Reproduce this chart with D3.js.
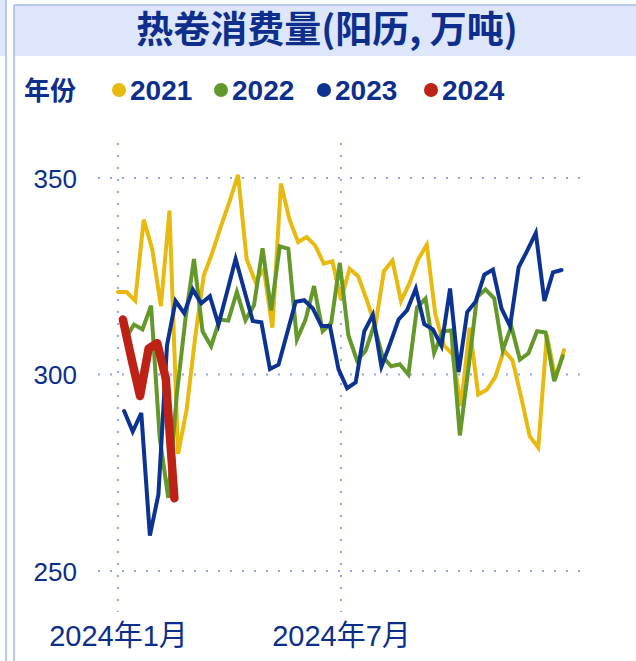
<!DOCTYPE html>
<html>
<head>
<meta charset="utf-8">
<script src="https://cdn.jsdelivr.net/npm/d3@7"></script>
<style>
  html, body { margin: 0; padding: 0; background: #fff; }
  svg { display: block; }
</style>
</head>
<body>
<div id="chart"></div>
<script>
'use strict'

// weekly (Friday) hot-rolled coil consumption, 10k tonnes
const firstDates = {
  '2021': '2021-01-01',
  '2022': '2022-01-07',
  '2023': '2023-01-06',
  '2024': '2024-01-05'
}

const values2021 = [321, 321, 318.8, 339.4, 331.8, 317.4, 341.7, 279.8, 291, 309.5,
  325.2, 331, 337.7, 344, 350.8, 329.3, 323.7, 326.7, 311.9, 348.6,
  339.4, 333.7, 335, 332.8, 328.2, 328.8, 319, 326.9, 325, 319,
  312.3, 326.3, 329, 318.7, 323.3, 329.3, 333, 315.3, 307.4, 305.2,
  292, 311.9, 294.9, 296.1, 299.4, 306.2, 303.6, 294.3, 284.3, 281.4,
  310, 299, 306.2]

const values2022 = [309, 312.7, 311.5, 317.5, 284, 268.6, 295, 314, 329.4, 311,
  307.2, 314, 313.7, 321, 313.8, 317.6, 332.1, 316.3, 332.6, 332,
  308.9, 313.9, 322.5, 311, 313.1, 328.4, 310, 303.6, 306, 312.5,
  304.5, 302.1, 302.6, 300, 317, 319.3, 305.5, 311, 311.2, 284.5,
  301.5, 319.7, 321.6, 319.4, 306.2, 312.3, 303.8, 305.4, 311, 310.7,
  298.3, 304.7]

const values2023 = [290.7, 285.5, 290.2, 259, 269.5, 307.5, 318.7, 315.6, 321.6, 318.1,
  319.9, 312.7, 321, 329.4, 321.5, 313.6, 313.3, 301.4, 302.5, 310.5,
  318.5, 318.9, 316.8, 312.4, 312.3, 301.3, 296.5, 298, 311, 315.2,
  302, 307.8, 314, 316.4, 321.8, 312.8, 311.5, 307.3, 321.9, 300.6,
  315.9, 318.6, 325.4, 326.7, 316.8, 312.3, 327.3, 331.5, 336, 318.7,
  326, 326.6]

const values2024 = [314, 304, 294.5, 306.6, 308, 299, 268.5]

const years = ['2021', '2022', '2023', '2024']
const yearValues = [values2021, values2022, values2023, values2024]
const colors = ['#e8b90e', '#64982a', '#0c3391', '#be2217']
const yTicks = [250, 300, 350]
const xTicks = ['2024-01-01', '2024-07-01']
const xTickLabels = ['2024年1月', '2024年7月']

const title = '热卷消费量(阳历, 万吨)'
const legendTitle = '年份'

const width = 636
const height = 661
const textColor = '#0d2e8c'
const gridColor = '#8ea7ef'

const parse = d3.timeParse('%Y-%m-%d')

// put every year's weeks on the 2024 calendar, by day of year
function toSeries(year, vals) {
  const start = parse(firstDates[year])
  const jan1 = new Date(+year, 0, 1)
  const offset = d3.timeDay.count(jan1, start)
  return vals.map((v, i) => ({
    date: d3.timeDay.offset(new Date(2024, 0, 1), offset + 7 * i),
    value: v
  }))
}

const series = years.map((y, i) => ({ year: y, color: colors[i], points: toSeries(y, yearValues[i]) }))

const svg = d3.select('#chart').append('svg')
  .attr('width', width)
  .attr('height', height)

// panel frame
svg.append('rect').attr('x', 0).attr('y', 0).attr('width', 6).attr('height', 56).attr('fill', '#dfe7fb')
svg.append('rect').attr('x', 14).attr('y', 5).attr('width', width - 14).attr('height', 51).attr('fill', '#dde6fb')
svg.append('line').attr('x1', 14).attr('x2', width).attr('y1', 5).attr('y2', 5)
  .attr('stroke', '#b6c8f0').attr('stroke-width', 2)
svg.append('line').attr('x1', 6).attr('x2', 6).attr('y1', 0).attr('y2', height)
  .attr('stroke', '#b6c8f0').attr('stroke-width', 2)
svg.append('line').attr('x1', 14).attr('x2', 14).attr('y1', 5).attr('y2', height)
  .attr('stroke', '#b6c8f0').attr('stroke-width', 2)

svg.append('text')
  .attr('x', 327)
  .attr('y', 43)
  .attr('text-anchor', 'middle')
  .style('font-family', '"Noto Sans CJK SC", sans-serif')
  .style('font-weight', 'bold')
  .style('font-size', '37px')
  .attr('fill', textColor)
  .text(title)

// legend
const legend = svg.append('g').attr('transform', 'translate(0,90)')
legend.append('text')
  .attr('x', 24)
  .attr('y', 10)
  .style('font-family', '"Noto Sans CJK SC", sans-serif')
  .style('font-weight', 'bold')
  .style('font-size', '26px')
  .attr('fill', textColor)
  .text(legendTitle)

const legendX = [119, 221, 324, 431]
const items = legend.selectAll('.item')
  .data(series)
  .enter()
  .append('g')
  .attr('class', 'item')
  .attr('transform', (d, i) => `translate(${legendX[i]},0)`)

items.append('circle')
  .attr('r', 7)
  .attr('fill', d => d.color)

items.append('text')
  .attr('x', 11)
  .attr('y', 10)
  .style('font-family', '"Liberation Sans", Arial, sans-serif')
  .style('font-weight', 'bold')
  .style('font-size', '28px')
  .attr('fill', textColor)
  .text(d => d.year)

// scales
const x = d3.scaleTime()
  .domain([parse('2024-01-01'), parse('2024-07-01')])
  .range([118, 341])

const y = d3.scaleLinear()
  .domain([250, 350])
  .range([571, 178])

// grid
const grid = svg.append('g')
grid.selectAll('.hgrid')
  .data(yTicks)
  .enter()
  .append('line')
  .attr('x1', 98)
  .attr('x2', 580)
  .attr('y1', d => y(d))
  .attr('y2', d => y(d))
  .attr('stroke', gridColor)
  .attr('stroke-width', 2)
  .attr('stroke-dasharray', '2 10')

grid.selectAll('.vgrid')
  .data(xTicks)
  .enter()
  .append('line')
  .attr('x1', d => x(parse(d)))
  .attr('x2', d => x(parse(d)))
  .attr('y1', 143)
  .attr('y2', 612)
  .attr('stroke', gridColor)
  .attr('stroke-width', 2)
  .attr('stroke-dasharray', '2 10')

// axes as text
const yAxis = d3.axisLeft(y).tickValues(yTicks).tickSize(0).tickPadding(0)
const gy = svg.append('g')
  .attr('transform', 'translate(77,0)')
  .call(yAxis)
gy.select('.domain').remove()
gy.selectAll('text')
  .attr('dy', '0.36em')
  .style('font-family', '"Liberation Sans", Arial, sans-serif')
  .style('font-size', '26px')
  .attr('fill', textColor)

const xAxis = d3.axisBottom(x)
  .tickValues(xTicks.map(parse))
  .tickFormat((d, i) => xTickLabels[i])
  .tickSize(0)
  .tickPadding(0)
const gx = svg.append('g')
  .attr('transform', 'translate(0,646)')
  .call(xAxis)
gx.select('.domain').remove()
gx.selectAll('text')
  .attr('dy', 0)
  .style('font-family', '"Liberation Sans", "Noto Sans CJK SC", sans-serif')
  .style('font-size', '29px')
  .attr('fill', textColor)

// lines
const line = d3.line()
  .x(d => x(d.date))
  .y(d => y(d.value))

svg.append('g')
  .selectAll('path')
  .data(series)
  .enter()
  .append('path')
  .attr('d', d => line(d.points))
  .attr('fill', 'none')
  .attr('stroke', d => d.color)
  .attr('stroke-width', d => d.year === '2024' ? 8.5 : 4)
  .attr('stroke-linecap', 'round')
  .attr('stroke-linejoin', d => d.year === '2024' ? 'round' : 'miter')
</script>
</body>
</html>
